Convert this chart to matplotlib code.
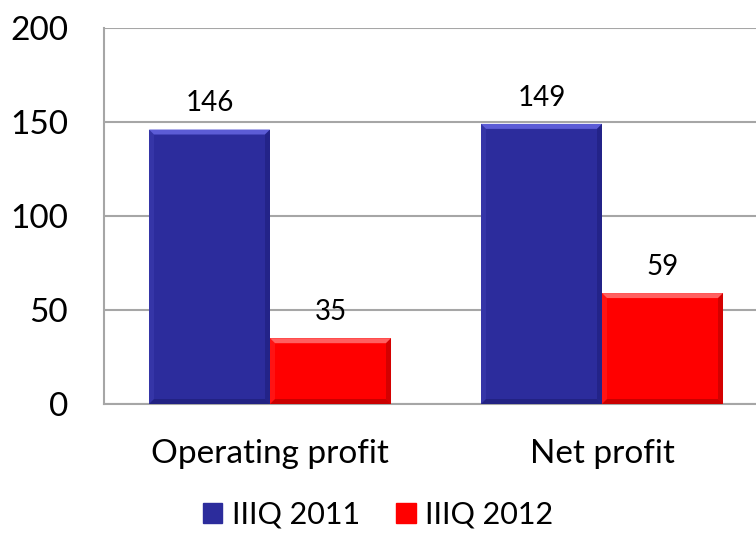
import matplotlib.pyplot as plt
from matplotlib.patches import Polygon, Rectangle

# data
categories = ['Operating profit', 'Net profit']
series_names = ['IIIQ 2011', 'IIIQ 2012']
q3_2011 = [146, 149]
q3_2012 = [35, 59]
yticks = [0, 50, 100, 150, 200]

blue = '#2C2C9C'
red = '#FF0000'

plt.rcParams['font.family'] = ['Lato', 'DejaVu Sans']

fig = plt.figure(figsize=(7.56, 5.34), dpi=100)
ax = fig.add_axes([104 / 756, 130 / 534, 664 / 756, 376 / 534])

w = 0.3645
x = list(range(len(categories)))
b1 = ax.bar([i - w / 2 for i in x], q3_2011, width=w, color=blue, zorder=3)
b2 = ax.bar([i + w / 2 for i in x], q3_2012, width=w, color=red, zorder=3)

ax.set_xlim(-0.5, 1.5)
ax.set_ylim(0, 200)
ax.set_yticks(yticks)
ax.set_xticks(x)
ax.set_xticklabels(categories)
ax.yaxis.grid(True, color='#A6A6A6', linewidth=1.5, zorder=0)
ax.tick_params(axis='y', length=0, labelsize=24, pad=26)
ax.tick_params(axis='x', length=0, labelsize=24, pad=25)
for s in ['top', 'right']:
    ax.spines[s].set_visible(False)
ax.spines['left'].set_color('#A6A6A6')
ax.spines['left'].set_linewidth(1.5)
ax.spines['bottom'].set_color('#A6A6A6')
ax.spines['bottom'].set_linewidth(1.5)

# simple bevel look
inv = ax.transData.inverted()
def bevel(rect, light, dark):
    x0, y0 = rect.get_x(), rect.get_y()
    x1, y1 = x0 + rect.get_width(), y0 + rect.get_height()
    (X0, Y0), (X1, Y1) = ax.transData.transform([(x0, y0), (x1, y1)])
    d = 5
    pts = lambda p: inv.transform(p)
    ax.add_patch(Polygon(pts([(X0, Y1), (X1, Y1), (X1 - d, Y1 - d), (X0 + d, Y1 - d)]),
                         color=light, zorder=4, lw=0))
    ax.add_patch(Polygon(pts([(X1, Y1), (X1, Y0), (X1 - d, Y0 + d), (X1 - d, Y1 - d)]),
                         color=dark, zorder=4, lw=0, alpha=0.45))
    ax.add_patch(Polygon(pts([(X0, Y0), (X1, Y0), (X1 - d, Y0 + d), (X0 + d, Y0 + d)]),
                         color=dark, zorder=4, lw=0, alpha=0.55))
    ax.add_patch(Polygon(pts([(X0, Y1), (X0, Y0), (X0 + d, Y0 + d), (X0 + d, Y1 - d)]),
                         color=light, zorder=4, lw=0, alpha=0.2))

for r in b1:
    bevel(r, '#5C5CD6', '#1A1A70')
for r in b2:
    bevel(r, '#FF6060', '#A00000')

for bars, vals in [(b1, q3_2011), (b2, q3_2012)]:
    for r, v in zip(bars, vals):
        ax.annotate(str(v), (r.get_x() + r.get_width() / 2, v), xytext=(0, 13),
                    textcoords='offset points', ha='center', va='baseline', fontsize=20)

handles = [Rectangle((0, 0), 1, 1, color=blue), Rectangle((0, 0), 1, 1, color=red)]
fig.legend(handles, series_names, loc='center', bbox_to_anchor=(0.5, 0.036), ncol=2,
           frameon=False, fontsize=22, handlelength=0.65, handleheight=0.65,
           handletextpad=0.3, columnspacing=1.2, borderpad=0)

fig.savefig('out.png', dpi=100)
